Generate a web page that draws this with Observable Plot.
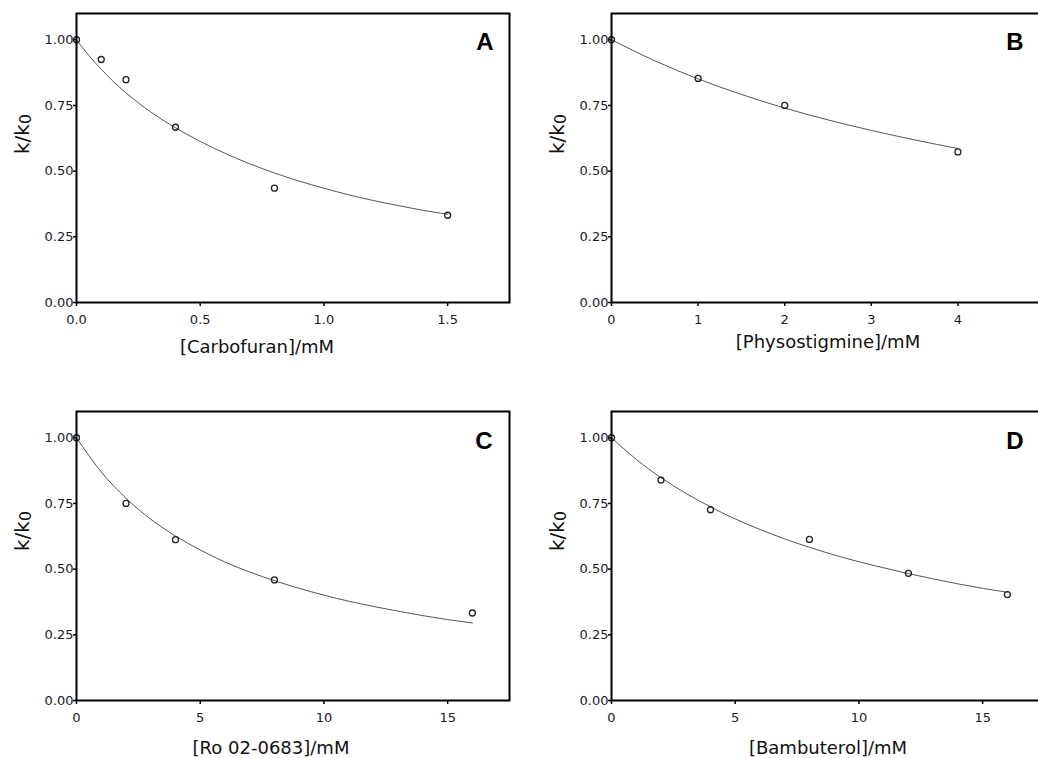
<!DOCTYPE html>
<html><head><meta charset="utf-8">
<script src="https://cdn.jsdelivr.net/npm/d3@7"></script>
<script src="https://cdn.jsdelivr.net/npm/@observablehq/plot@0.6"></script>
<style>
body{margin:0;background:#fff;}
#wrap{position:relative;width:1038px;height:758px;overflow:hidden;background:#fff;}
.panel{position:absolute;}
.panel svg{max-width:none !important;}
</style></head><body><div id="wrap"></div>
<script>
// ---- Data ----
const yTicks = [0, 0.25, 0.5, 0.75, 1.0];
const yLabelMain = "k/k";
const yLabelSub = "0";

// Panel A: Carbofuran
const aLetter = "A";
const aLabel = "[Carbofuran]/mM";
const aTicks = [0, 0.5, 1.0, 1.5];
const aX = [0, 0.1, 0.2, 0.4, 0.8, 1.5];
const aY = [1.0, 0.925, 0.848, 0.667, 0.435, 0.332];
const aFitX = [0, 0.05, 0.1, 0.15, 0.2, 0.3, 0.4, 0.5, 0.6, 0.7, 0.8, 0.9, 1.0, 1.1, 1.2, 1.3, 1.4, 1.5];
const aFitY = [1.0, 0.94, 0.888, 0.84, 0.798, 0.725, 0.665, 0.613, 0.568, 0.528, 0.493, 0.462, 0.435, 0.41, 0.388, 0.369, 0.351, 0.336];

// Panel B: Physostigmine
const bLetter = "B";
const bLabel = "[Physostigmine]/mM";
const bTicks = [0, 1, 2, 3, 4];
const bX = [0, 1, 2, 4];
const bY = [1.0, 0.853, 0.75, 0.573];
const bFitX = [0, 0.5, 1, 1.5, 2, 2.5, 3, 3.5, 4];
const bFitY = [1.0, 0.92, 0.851, 0.792, 0.74, 0.695, 0.655, 0.619, 0.586];

// Panel C: Ro 02-0683
const cLetter = "C";
const cLabel = "[Ro 02-0683]/mM";
const cTicks = [0, 5, 10, 15];
const cX = [0, 2, 4, 8, 16];
const cY = [1.0, 0.75, 0.612, 0.459, 0.333];
const cFitX = [0, 1, 2, 3, 4, 5, 6, 7, 8, 9, 10, 11, 12, 13, 14, 15, 16];
const cFitY = [1.0, 0.87, 0.77, 0.69, 0.626, 0.573, 0.527, 0.489, 0.456, 0.427, 0.401, 0.378, 0.358, 0.34, 0.323, 0.308, 0.295];

// Panel D: Bambuterol
const dLetter = "D";
const dLabel = "[Bambuterol]/mM";
const dTicks = [0, 5, 10, 15];
const dX = [0, 2, 4, 8, 12, 16];
const dY = [1.0, 0.839, 0.726, 0.613, 0.484, 0.403];
const dFitX = [0, 1, 2, 3, 4, 5, 6, 7, 8, 9, 10, 11, 12, 13, 14, 15, 16];
const dFitY = [1.0, 0.918, 0.848, 0.789, 0.737, 0.691, 0.651, 0.615, 0.583, 0.554, 0.528, 0.505, 0.483, 0.463, 0.444, 0.427, 0.412];

const zip = (xs, ys) => xs.map((x, i) => ({x, y: ys[i]}));

const panels = [
  {left: 0, top: 0, width: 519, height: 380, mt: 13, mb: 78, ml: 76, mr: 10, xMax: 1.75,
   ticks: aTicks, fmt: ".1f", label: aLabel, letter: aLetter, pts: zip(aX, aY), fit: zip(aFitX, aFitY),
   lx: -36, ly: 45, ldx: -16, ldy: 19, ydy: -4},
  {left: 520, top: 0, width: 524, height: 380, mt: 13, mb: 78, ml: 91, mr: 0, xMax: 5,
   ticks: bTicks, fmt: "d", label: bLabel, letter: bLetter, pts: zip(bX, bY), fit: zip(bFitX, bFitY),
   lx: 0, ly: 39.5, ldx: -21, ldy: 19, ydy: -4},
  {left: 0, top: 380, width: 519, height: 378, mt: 31, mb: 58, ml: 76, mr: 10, xMax: 17.5,
   ticks: cTicks, fmt: "d", label: cLabel, letter: cLetter, pts: zip(cX, cY), fit: zip(cFitX, cFitY),
   lx: -22, ly: 47.5, ldx: -17, ldy: 20.5, ydy: -5},
  {left: 520, top: 380, width: 524, height: 378, mt: 31, mb: 58, ml: 91, mr: 0, xMax: 17.5,
   ticks: dTicks, fmt: "d", label: dLabel, letter: dLetter, pts: zip(dX, dY), fit: zip(dFitX, dFitY),
   lx: 0, ly: 47.5, ldx: -21, ldy: 20.5, ydy: -5}
];

const tickColor = "#1a1a2a";
const wrap = document.getElementById("wrap");
for (const p of panels) {
  const xf = d3.format(p.fmt), yf = d3.format(".2f");
  const chart = Plot.plot({
    width: p.width, height: p.height,
    marginTop: p.mt, marginBottom: p.mb, marginLeft: p.ml, marginRight: p.mr,
    style: {fontFamily: "DejaVu Sans", fontSize: "13px", color: "#1a1a1a", background: "white", overflow: "visible", maxWidth: "none"},
    x: {domain: [0, p.xMax]},
    y: {domain: [0, 1.1]},
    marks: [
      // tick marks from the library's axes; labels drawn as text marks for exact sizing
      Plot.axisX({ticks: p.ticks, tickFormat: () => "", tickSize: 4, label: null, stroke: "black", strokeWidth: 1.5}),
      Plot.axisY({ticks: yTicks, tickFormat: () => "", tickSize: 3, label: null, stroke: "black", strokeWidth: 1.5}),
      Plot.text(p.ticks, {x: d => d, frameAnchor: "bottom", dy: 12, lineAnchor: "top", text: d => xf(d),
        fontSize: 13, fontFamily: "DejaVu Sans", fill: tickColor}),
      Plot.text(yTicks, {y: d => d, frameAnchor: "left", dx: -3, textAnchor: "end", lineAnchor: "middle", text: d => yf(d),
        fontSize: 13, fontFamily: "DejaVu Sans", fill: tickColor}),
      Plot.line(p.fit, {x: "x", y: "y", stroke: "#555", strokeWidth: 1, curve: "monotone-x"}),
      Plot.dot(p.pts, {x: "x", y: "y", r: 3, stroke: "#222", strokeWidth: 1.3, fill: "none"}),
      Plot.frame({stroke: "black", strokeWidth: 2}),
      Plot.text([p.letter], {frameAnchor: "top-right", text: d => d, dx: p.ldx, dy: p.ldy, textAnchor: "end", lineAnchor: "top",
        fontFamily: "Liberation Sans", fontWeight: "bold", fontSize: 24, fill: "black"}),
      Plot.text([p.label], {frameAnchor: "bottom", text: d => d, dx: p.lx, dy: p.ly, lineAnchor: "middle",
        fontSize: 18, fill: "#111"}),
      Plot.text([yLabelMain + yLabelSub], {frameAnchor: "left", text: d => d, dx: -54, dy: p.ydy, rotate: -90, lineAnchor: "middle",
        fontSize: 20, fill: "#111"})
    ]
  });
  // render the trailing "0" of k/k0 as a lowered, smaller subscript
  d3.select(chart).selectAll("text").filter(function() { return this.textContent === yLabelMain + yLabelSub; })
    .each(function() {
      const t = d3.select(this);
      t.text(null);
      t.append("tspan").text(yLabelMain);
      t.append("tspan").attr("font-size", "0.78em").attr("dy", "0.12em").text(yLabelSub);
    });
  const div = document.createElement("div");
  div.className = "panel";
  div.style.left = p.left + "px";
  div.style.top = p.top + "px";
  div.style.width = p.width + "px";
  div.style.height = p.height + "px";
  div.appendChild(chart);
  wrap.appendChild(div);
}
</script></body></html>
